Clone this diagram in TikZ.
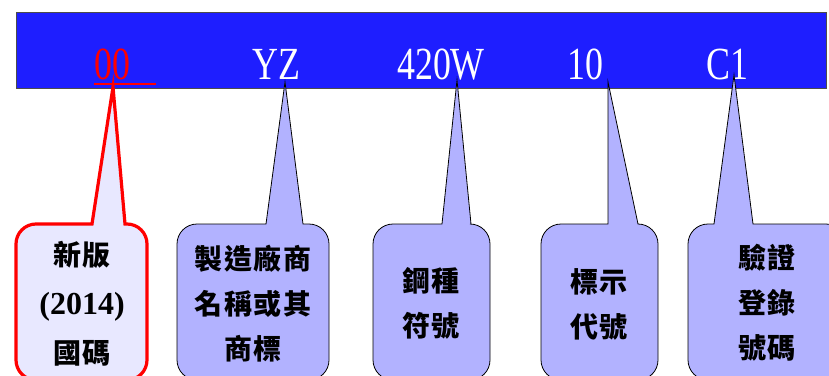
\documentclass[tikz,border=0pt]{standalone}
\usepackage{fontspec}
\usepackage{tikz}
\usetikzlibrary{positioning}
\newfontfamily\codefont[FakeStretch=0.78]{Liberation Serif}
\newfontfamily\numfont{Liberation Serif}
\newfontfamily\cjkfont[LetterSpace=6]{Noto Sans CJK TC}
\definecolor{barblue}{RGB}{30,30,255}
\definecolor{calloutfill}{RGB}{178,178,255}
\definecolor{lightfill}{RGB}{232,232,255}
% callout box: style, left, right, top, bottom, pointer left, pointer right, tip
\newcommand{\calloutbox}[8]{%
  \draw[#1] (#2,300) [rounded corners=20] -- (#2,#4) [sharp corners] -- (#6,#4) -- (#8)
    -- (#7,#4) [rounded corners=20] -- (#3,#4) -- (#3,#5) -- (#2,#5) -- cycle;}

\begin{document}
\begin{tikzpicture}[x=1pt,y=-1pt]
    \useasboundingbox (0,0) rectangle (829,375);
    \clip (0,0) rectangle (829,375);
    %%%%% THE CODE BAR
    \begin{scope}[every node/.style={font=\codefont\fontsize{46}{46}\selectfont,
        text=white, anchor=base, inner sep=0pt}]
      \draw[fill=barblue, draw=black!70, line width=0.8pt] (16,12) rectangle (826,88);
      \node[text=red] (code00) at (112,79) {00};
      \node (codeYZ) at (276.5,79) {YZ};
      \node (code420) at (441,79) {420W};
      \node (code10) at (585.5,79) {10};
      \node (codeC1) at (727,79) {C1};
      \draw[red, line width=1.3pt] ([yshift=-5pt]code00.base west) -- ++(62,0);
    \end{scope}
    % pointer tips
    \coordinate (tip00) at (113,87);
    \coordinate (tipYZ) at (285,82);
    \coordinate (tip420) at (457,80);
    \coordinate (tip10) at (608,82);
    \coordinate (tipC1) at (734,75);
    %%%%% THE CALLOUTS
    \tikzset{
      plain callout/.style={fill=calloutfill, draw=black, line width=0.8pt},
      red callout/.style={fill=lightfill, draw=red, line width=3.2pt}}
    \calloutbox{red callout}{16}{147}{224}{380}{92}{125}{tip00}
    \calloutbox{plain callout}{177}{329}{224}{380}{266}{303}{tipYZ}
    \calloutbox{plain callout}{373}{490}{224}{380}{442}{471}{tip420}
    \calloutbox{plain callout}{541}{658}{224}{380}{608}{638}{tip10}
    \calloutbox{plain callout}{688}{846}{224}{380}{714}{753}{tipC1}
    %%%%% THE CALLOUT TEXTS
    \begin{scope}[every node/.style={align=center, inner sep=0pt,
        font=\cjkfont\bfseries\fontsize{28}{45}\selectfont}]
      \node[font=\cjkfont\bfseries\fontsize{28}{49}\selectfont] (version) at (82,304)
        {新版\\{\numfont\bfseries\fontsize{32}{32}\selectfont (2014)}\\國碼};
      \node (maker) at (253,304) {製造廠商\\名稱或其\\商標};
      \node (grade) at (431,303.5) {鋼種\\符號};
      \node (marking) at (599,304.5) {標示\\代號};
      \node (register) at (767,303) {驗證\\登錄\\號碼};
    \end{scope}
\end{tikzpicture}
\end{document}
